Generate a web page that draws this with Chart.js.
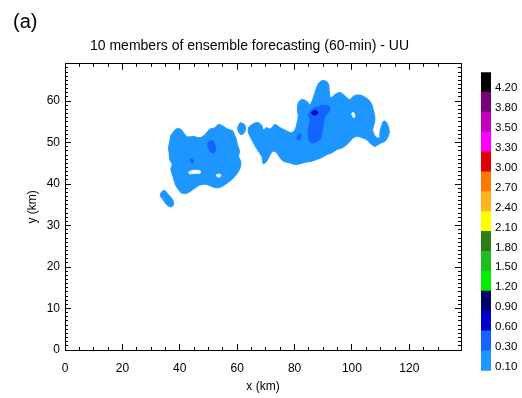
<!DOCTYPE html>
<html>
<head>
<meta charset="utf-8">
<script src="https://cdn.jsdelivr.net/npm/chart.js@4.4.1/dist/chart.umd.min.js"></script>
<style>
  body { margin: 0; background: #fff; }
  #wrap { position: relative; width: 522px; height: 398px; }
  #main { position: absolute; left: 0; top: 0; }
  #bar { position: absolute; left: 481px; top: 60px; }
</style>
</head>
<body>
<div id="wrap">
  <canvas id="main" width="522" height="398"></canvas>
  <canvas id="bar" width="41" height="325"></canvas>
</div>
<script>
// Colour levels of the contour field
const levels = [0.10, 0.30, 0.60, 0.90, 1.20, 1.50, 1.80, 2.10, 2.40, 2.70, 3.00, 3.30, 3.50, 3.80, 4.20];
const levelLabels = ['0.10', '0.30', '0.60', '0.90', '1.20', '1.50', '1.80', '2.10', '2.40', '2.70', '3.00', '3.30', '3.50', '3.80', '4.20'];
const levelColors = ['#1e96ff', '#1464ff', '#0000cd', '#00006e', '#00f000', '#1ebe1e', '#2d7d14', '#ffff00',
                     '#ffb41e', '#ff7800', '#e10000', '#ff00ff', '#be00be', '#780078', '#000000'];

// Axis ticks (km)
const xMajor = [0, 20, 40, 60, 80, 100, 120];
const yMajor = [0, 10, 20, 30, 40, 50, 60];

// Contour outlines, [x km, y km]
const westCell = [[36.9,51.8],[38.8,53.3],[40.4,53.2],[41.3,52.4],[42.7,51.4],[44.8,51.5],[47.1,51.2],[48.9,52.0],
  [50.4,53.2],[52.3,53.6],[53.5,54.4],[55.0,54.0],[56.6,53.3],[58.5,52.8],[59.0,52.0],[59.7,50.8],[60.1,49.5],
  [60.8,47.9],[60.5,46.7],[61.3,45.3],[60.8,43.5],[59.7,42.3],[58.2,41.1],[56.6,40.3],[54.7,39.4],[52.9,39.1],
  [51.2,39.4],[49.5,39.9],[47.7,39.9],[46.0,39.4],[44.2,38.5],[42.5,37.8],[40.8,37.8],[39.6,38.6],[38.8,39.4],
  [38.1,40.7],[37.6,41.9],[36.9,43.5],[37.3,44.7],[36.5,45.9],[36.3,47.5],[36.1,48.7],[36.5,50.3]];
const westSpur = [[33.5,38.0],[34.6,38.5],[36.1,37.4],[37.6,36.1],[37.8,35.0],[36.9,34.5],[35.5,35.0],[34.2,36.2],[33.2,37.2]];
const gapCell = [[61.0,54.8],[62.5,54.4],[62.9,53.2],[62.0,52.0],[60.8,52.2],[60.2,53.6]];
const eastCell = [[63.9,53.6],[65.7,54.6],[67.4,54.8],[68.6,54.1],[69.1,53.1],[70.3,53.6],[71.5,53.3],[72.6,54.0],
  [73.2,54.4],[75.0,53.6],[77.3,52.8],[79.0,52.4],[80.2,53.2],[80.8,54.6],[81.3,56.6],[81.0,57.6],[81.3,59.6],
  [82.5,60.4],[84.2,60.0],[85.4,59.2],[86.5,60.8],[87.7,63.3],[88.9,64.7],[90.6,64.9],[91.8,64.1],[92.1,62.4],
  [92.6,60.8],[94.1,61.6],[95.8,62.1],[97.0,61.6],[98.2,60.8],[99.3,60.4],[100.5,61.2],[102.2,61.5],[103.9,61.2],
  [105.7,60.4],[106.9,59.2],[107.4,58.0],[108.0,56.0],[107.7,54.4],[107.2,53.2],[107.7,52.0],[108.6,51.2],
  [109.7,51.2],[109.7,52.4],[110.3,54.0],[111.1,55.2],[112.1,54.8],[113.0,52.8],[112.6,51.5],[111.5,50.3],
  [110.3,50.0],[109.1,49.5],[108.0,49.1],[106.9,49.5],[105.7,50.3],[104.9,50.8],[103.4,51.2],[102.2,51.5],
  [100.5,51.2],[99.3,50.3],[98.2,49.5],[96.4,48.7],[94.7,48.3],[92.9,47.5],[91.2,47.1],[89.5,46.4],[88.3,46.1],
  [86.0,45.5],[84.2,45.3],[81.9,44.9],[80.2,44.7],[78.4,45.1],[76.1,45.5],[75.0,46.3],[73.8,47.5],[72.6,47.9],
  [71.5,47.1],[70.3,45.5],[69.1,44.9],[68.6,46.6],[67.4,47.9],[66.3,49.1],[65.1,50.7],[63.9,52.4]];
const westCore = [[50.4,50.3],[51.5,50.5],[52.2,49.5],[52.5,48.5],[51.8,47.5],[50.9,47.7],[50.0,48.7],[49.7,49.8]];
const westDot = [[43.6,46.0],[44.3,46.1],[44.8,45.3],[44.2,45.0],[43.8,45.5]];
const eastCore = [[84.8,56.8],[86.0,58.0],[88.9,58.8],[91.2,59.0],[92.3,58.4],[91.8,57.2],[90.6,56.4],[90.0,54.4],
  [89.5,52.4],[88.9,50.8],[87.1,50.0],[85.6,50.0],[84.8,51.2],[84.8,53.2],[85.4,55.2]];
const eastSpot = [[80.9,51.0],[81.3,51.9],[82.0,52.2],[82.3,51.5],[81.7,50.7],[81.1,50.7]];
const eastPeak = [[85.9,57.2],[86.7,57.7],[87.8,57.6],[88.1,57.1],[87.2,56.7],[86.3,56.8]];
const westHole1 = [[43.1,42.9],[44.5,43.3],[46.2,43.3],[47.2,43.1],[47.0,42.6],[45.2,42.6],[43.4,42.5]];
const westHole2 = [[52.7,42.2],[53.5,42.4],[54.3,42.2],[54.1,41.8],[53.2,41.7]];
const eastHole = [[99.9,57.0],[100.4,57.3],[101.0,56.6],[100.8,56.0],[100.2,56.3]];

// shape -> level index (null = no rain, left white)
const shapes = [
  [westCell, 0], [westSpur, 0], [gapCell, 0], [eastCell, 0],
  [westCore, 1], [westDot, 1], [eastCore, 1], [eastSpot, 1],
  [eastPeak, 2],
  [westHole1, null], [westHole2, null], [eastHole, null]
];

const FONT = "'Liberation Sans', Arial, Helvetica, sans-serif";
const black = '#000';

const datasets = shapes.map(([pts, lv]) => {
  const color = lv === null ? '#ffffff' : levelColors[lv];
  const data = pts.map(([x, y]) => ({ x, y }));
  data.push(data[0]);
  return {
    data,
    showLine: true,
    fill: 'shape',
    backgroundColor: color,
    borderColor: color,
    borderWidth: 1,
    pointRadius: 0,
    tension: 0.35,
    order: lv === null ? 0 : 10 - lv
  };
});

// Frame axis with inward major ticks
function frame(position, min, max, major, size, extra) {
  return Object.assign({
    type: 'linear', position, min, max, weight: 1,
    afterBuildTicks: s => { s.ticks = major.map(v => ({ value: v })); },
    ticks: { display: false },
    grid: { drawOnChartArea: false, tickLength: -6, tickColor: black },
    border: { display: true, color: black, width: 1 },
    afterFit: s => { if (s.isHorizontal()) s.height = size; else s.width = size; }
  }, extra);
}

// Inward minor ticks
function minor(position, min, max, step) {
  return {
    type: 'linear', position, min, max, weight: 0,
    ticks: { display: false, stepSize: step },
    grid: { drawOnChartArea: false, tickLength: -3, tickColor: black },
    border: { display: false },
    afterFit: s => { if (s.isHorizontal()) s.height = 0; else s.width = 0; }
  };
}

const tickFont = { family: FONT, size: 12 };

new Chart(document.getElementById('main'), {
  type: 'scatter',
  data: { datasets },
  options: {
    responsive: false,
    animation: false,
    events: [],
    layout: { padding: { left: 13, right: 36, top: 0, bottom: 0 } },
    plugins: {
      legend: { display: false },
      tooltip: { enabled: false },
      title: {
        display: true, text: '(a)', align: 'start', color: black,
        font: { family: FONT, size: 20, weight: 'normal' },
        padding: { top: 10, bottom: 4 }
      },
      subtitle: {
        display: true, text: '10 members of ensemble forecasting (60-min) - UU', color: black,
        font: { family: FONT, size: 14, weight: 'normal' },
        padding: { top: 0, bottom: 9 }
      }
    },
    scales: {
      x: frame('bottom', 0, 138, xMajor, 48, {
        ticks: { display: true, font: tickFont, color: black, padding: 17, maxRotation: 0, autoSkip: false },
        title: { display: true, text: 'x (km)', font: tickFont, color: black, padding: { top: 0, bottom: 4 } }
      }),
      x2: minor('bottom', 0, 138, 5),
      xt: frame('top', 0, 138, xMajor, 0),
      xt2: minor('top', 0, 138, 5),
      y: frame('left', 0, 69, yMajor, 52, {
        ticks: { display: true, font: tickFont, color: black, padding: 11, autoSkip: false },
        title: { display: true, text: 'y (km)', font: tickFont, color: black, padding: { top: 12, bottom: 0 } }
      }),
      y2: minor('left', 0, 69, 1),
      yr: frame('right', 0, 69, yMajor, 25),
      yr2: minor('right', 0, 69, 1)
    }
  }
});

// Colour bar
new Chart(document.getElementById('bar'), {
  type: 'bar',
  data: {
    labels: [''],
    datasets: levels.map((lv, i) => ({
      data: [1], backgroundColor: levelColors[i], borderWidth: 0,
      barPercentage: 1, categoryPercentage: 1
    }))
  },
  options: {
    responsive: false,
    animation: false,
    events: [],
    layout: { padding: { top: 12.3, bottom: 14.3, left: 0, right: 0 } },
    plugins: { legend: { display: false }, tooltip: { enabled: false } },
    scales: {
      x: { stacked: true, display: false },
      y: {
        stacked: true, position: 'right', min: 0, max: levels.length,
        afterBuildTicks: s => { s.ticks = levels.map((v, i) => ({ value: i })); },
        ticks: { callback: (v, i) => levelLabels[i], padding: 4, labelOffset: -4,
                 font: { family: FONT, size: 11.5 }, color: black, autoSkip: false },
        grid: { display: false, drawTicks: false },
        border: { display: false },
        afterFit: s => { s.width = 31; }
      }
    }
  }
});
</script>
</body>
</html>
